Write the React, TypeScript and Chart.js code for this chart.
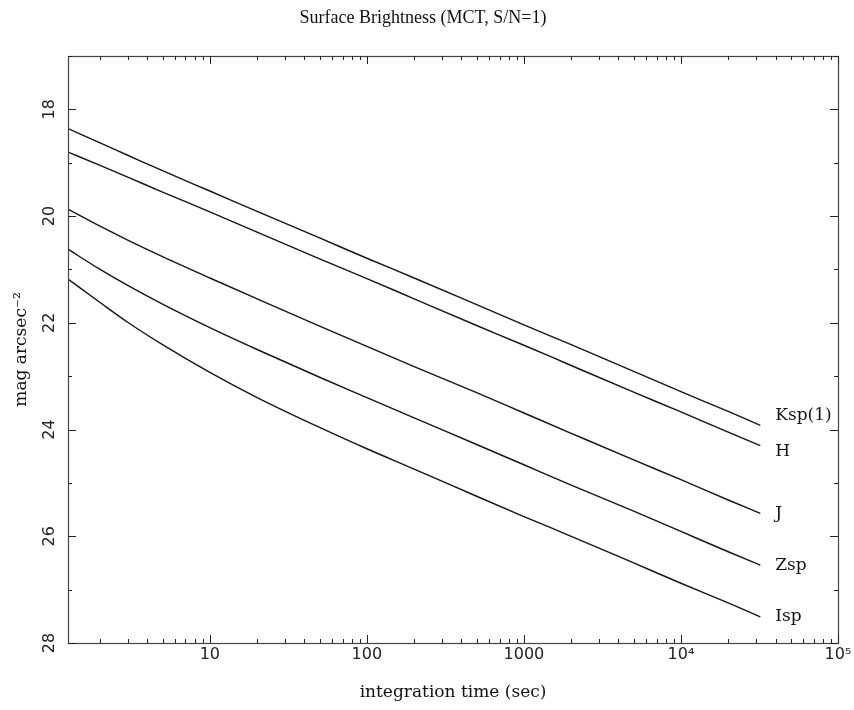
import { useEffect, useRef } from 'react';
import { Chart, registerables } from 'chart.js';

Chart.register(...registerables);

// Integration times (s) at which each limiting surface brightness is sampled
const exposureTimes = [1.25, 2, 3, 5, 10, 20, 50, 100, 200, 500, 1000, 2000, 5000, 10000, 20000, 32000];

// Limiting surface brightness (mag arcsec^-2) per band
const kspMag = [18.36, 18.63, 18.86, 19.15, 19.53, 19.91, 20.41, 20.79, 21.16, 21.66, 22.04, 22.41, 22.91, 23.29, 23.66, 23.92];
const hMag = [18.8, 19.05, 19.27, 19.55, 19.92, 20.3, 20.8, 21.17, 21.55, 22.05, 22.42, 22.8, 23.3, 23.67, 24.05, 24.3];
const jMag = [19.87, 20.19, 20.45, 20.76, 21.16, 21.55, 22.06, 22.44, 22.82, 23.31, 23.69, 24.07, 24.57, 24.94, 25.32, 25.57];
const zspMag = [20.62, 21.0, 21.3, 21.65, 22.09, 22.5, 23.02, 23.4, 23.78, 24.28, 24.66, 25.04, 25.53, 25.91, 26.29, 26.54];
const ispMag = [21.18, 21.62, 21.99, 22.41, 22.93, 23.4, 23.96, 24.36, 24.74, 25.25, 25.63, 26.0, 26.5, 26.88, 27.25, 27.51];

const bandNames = ['Ksp(1)', 'H', 'J', 'Zsp', 'Isp'];
const bandSeries = [kspMag, hMag, jMag, zspMag, ispMag];

// Axis ticks
const xMajorTicks = [10, 100, 1000, 10000, 100000];
const xMajorLabels = ['10', '100', '1000', '10\u2074', '10\u2075'];
const xMinorTicks = [
  2, 3, 4, 5, 6, 7, 8, 9,
  20, 30, 40, 50, 60, 70, 80, 90,
  200, 300, 400, 500, 600, 700, 800, 900,
  2000, 3000, 4000, 5000, 6000, 7000, 8000, 9000,
  20000, 30000, 40000, 50000, 60000, 70000, 80000, 90000,
];
const yTickValues = [17, 18, 19, 20, 21, 22, 23, 24, 25, 26, 27, 28];
const yMajorTicks = [18, 20, 22, 24, 26, 28];

const TITLE = 'Surface Brightness (MCT, S/N=1)';
const X_TITLE = 'integration time (sec)';
const Y_TITLE = 'mag arcsec\u207B\u00B2';

// vertical nudge of the end-of-curve band names, keyed by band
const bandLabelNudge: Record<string, number> = { 'Ksp(1)': -10, H: 6, J: 0, Zsp: 0, Isp: 0 };

const boxAndTicks = {
  id: 'boxAndTicks',
  afterDraw(chart: any) {
    const { ctx, chartArea: a, scales } = chart;
    const xs = scales.x;
    const ys = scales.y;
    ctx.save();
    // frame
    ctx.strokeStyle = '#444';
    ctx.lineWidth = 1.2;
    ctx.strokeRect(a.left + 0.5, a.top + 0.5, a.right - a.left, a.bottom - a.top);
    // inward tick marks on all four sides
    ctx.strokeStyle = '#222';
    ctx.lineWidth = 1;
    ctx.beginPath();
    for (const t of xs.ticks) {
      const px = Math.round(xs.getPixelForValue(t.value)) + 0.5;
      const len = xMajorTicks.includes(t.value) ? 8 : 4;
      ctx.moveTo(px, a.bottom);
      ctx.lineTo(px, a.bottom - len);
      ctx.moveTo(px, a.top);
      ctx.lineTo(px, a.top + len);
    }
    for (const t of ys.ticks) {
      const py = Math.round(ys.getPixelForValue(t.value)) + 0.5;
      const len = yMajorTicks.includes(t.value) ? 8 : 4;
      ctx.moveTo(a.left, py);
      ctx.lineTo(a.left + len, py);
      ctx.moveTo(a.right, py);
      ctx.lineTo(a.right - len, py);
    }
    ctx.stroke();
    // band names at the end of each curve
    ctx.fillStyle = '#111';
    ctx.font = '17px "DejaVu Serif"';
    ctx.textAlign = 'left';
    ctx.textBaseline = 'middle';
    chart.data.datasets.forEach((ds: any, i: number) => {
      const meta = chart.getDatasetMeta(i);
      const last = meta.data[meta.data.length - 1];
      if (!last) return;
      ctx.fillText(ds.label, last.x + 15, last.y + (bandLabelNudge[ds.label] || 0));
    });
    ctx.restore();
  },
};

export default function App() {
  const ref = useRef<HTMLCanvasElement>(null);

  useEffect(() => {
    const canvas = ref.current;
    if (!canvas) return;
    const chart = new Chart(canvas, {
      type: 'line',
      data: {
        datasets: bandNames.map((name, i) => ({
          label: name,
          data: exposureTimes.map((t, k) => ({ x: t, y: bandSeries[i][k] })),
          borderColor: '#151515',
          borderWidth: 1.4,
          pointRadius: 0,
          fill: false,
          cubicInterpolationMode: 'monotone' as const,
        })),
      },
      options: {
        responsive: false,
        animation: false,
        devicePixelRatio: 1,
        events: [],
        layout: { padding: { left: 8, right: 16, top: 0, bottom: 0 } },
        plugins: {
          legend: { display: false },
          tooltip: { enabled: false },
          title: {
            display: true,
            text: TITLE,
            color: '#111',
            font: { family: '"Liberation Serif"', size: 18, weight: 'normal' },
            padding: { top: 7, bottom: 27.4 },
          },
        },
        scales: {
          x: {
            type: 'logarithmic',
            position: 'bottom',
            min: 1.25,
            max: 100000,
            afterBuildTicks: (scale: any) => {
              scale.ticks = [...xMinorTicks, ...xMajorTicks]
                .sort((p, q) => p - q)
                .map((v) => ({ value: v, major: xMajorTicks.includes(v) }));
            },
            afterFit: (scale: any) => {
              scale.height = 67;
            },
            grid: { display: false, drawTicks: false },
            border: { display: false },
            ticks: {
              autoSkip: false,
              maxRotation: 0,
              minRotation: 0,
              padding: 2,
              color: '#222',
              font: { family: '"DejaVu Sans"', size: 16 },
              callback: (value: any) => {
                const idx = xMajorTicks.indexOf(Number(value));
                return idx >= 0 ? xMajorLabels[idx] : '';
              },
            },
            title: {
              display: true,
              text: X_TITLE,
              color: '#111',
              font: { family: '"DejaVu Serif"', size: 17 },
              padding: { top: 0, bottom: 6.8 },
            },
          },
          y: {
            type: 'linear',
            position: 'left',
            reverse: true,
            min: 17,
            max: 28,
            afterBuildTicks: (scale: any) => {
              scale.ticks = yTickValues.map((v) => ({ value: v }));
            },
            afterFit: (scale: any) => {
              scale.width = 60;
            },
            grid: { display: false, drawTicks: false },
            border: { display: false },
            ticks: {
              autoSkip: false,
              minRotation: 90,
              maxRotation: 90,
              crossAlign: 'center',
              padding: 8,
              color: '#222',
              font: { family: '"DejaVu Sans"', size: 16 },
              callback: (value: any) => (yMajorTicks.includes(Number(value)) ? String(value) : ''),
            },
            title: {
              display: true,
              text: Y_TITLE,
              color: '#111',
              font: { family: '"DejaVu Serif"', size: 17 },
              padding: { top: 3.8, bottom: 0 },
            },
          },
        },
      },
      plugins: [boxAndTicks],
    } as any);
    return () => chart.destroy();
  }, []);

  return (
    <div style={{ position: 'fixed', left: 0, top: 0, width: 854, height: 710, background: '#fff' }}>
      <canvas ref={ref} width={854} height={710} style={{ display: 'block', width: 854, height: 710 }} />
    </div>
  );
}
